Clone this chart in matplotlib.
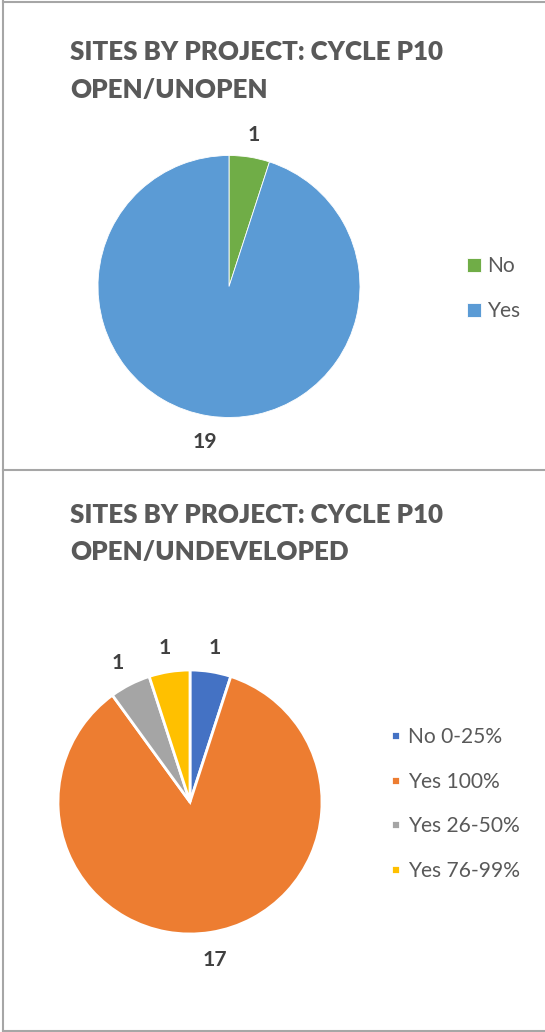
import matplotlib
matplotlib.use('Agg')
import matplotlib.pyplot as plt
from matplotlib.lines import Line2D

# ---------------- data ----------------
top_title = ['SITES BY PROJECT: CYCLE P10', 'OPEN/UNOPEN']
top_categories = ['No', 'Yes']
top_values = [1, 19]
top_colors = ['#70AD47', '#5B9BD5']

bot_title = ['SITES BY PROJECT: CYCLE P10', 'OPEN/UNDEVELOPED']
bot_categories = ['No 0-25%', 'Yes 100%', 'Yes 26-50%', 'Yes 76-99%']
bot_values = [1, 17, 1, 1]
bot_colors = ['#4472C4', '#ED7D31', '#A5A5A5', '#FFC000']

# ---------------- layout ----------------
W, H, DPI = 545, 1032, 100
FAMILY = ['Lato', 'DejaVu Sans']
TITLE_C = '#595959'
LEG_C = '#595959'
LAB_C = '#404040'
BORDER_C = '#A6A6A6'

fig = plt.figure(figsize=(W / DPI, H / DPI), dpi=DPI)
fig.patch.set_facecolor('white')
renderer = fig.canvas.get_renderer()


def fit_size(text, weight, target_px, ref=20.0):
    t = fig.text(0, 0, text, fontsize=ref, family=FAMILY, weight=weight)
    w = t.get_window_extent(renderer).width
    t.remove()
    return ref * target_px / w


TITLE_W = 'heavy'
TITLE_FS = fit_size('SITES BY PROJECT: CYCLE P10', TITLE_W, 372)
LEG_FS = fit_size('Yes 76-99%', 'normal', 112)
LAB_FS = fit_size('19', 'bold', 24.5)


def px(x, y):
    return x / W, 1 - y / H


# borders
for (x0, y0, x1, y1) in [(3, 1, 3, 1031), (3, 1.5, W, 1.5), (3, 469.5, W, 469.5), (3, 1030.5, W, 1030.5)]:
    a, b = px(x0, y0)
    c, d = px(x1, y1)
    fig.add_artist(Line2D([a, c], [b, d], transform=fig.transFigure, color=BORDER_C, lw=1.5))


def titles(lines, baselines):
    for line, yb in zip(lines, baselines):
        fx, fy = px(70, yb)
        fig.text(fx, fy, line, fontsize=TITLE_FS, family=FAMILY, weight=TITLE_W,
                 color=TITLE_C, ha='left', va='baseline')


def make_pie(values, colors, cx, cy, r, lw, ld):
    ax = fig.add_axes([(cx - r) / W, 1 - (cy + r) / H, 2 * r / W, 2 * r / H])
    wedges, texts = ax.pie(values, colors=colors, startangle=90, counterclock=False,
                           labels=[str(v) for v in values], labeldistance=ld,
                           wedgeprops=dict(edgecolor='white', linewidth=lw),
                           textprops=dict(fontsize=LAB_FS, family=FAMILY, weight='bold', color=LAB_C))
    for t in texts:
        t.set_ha('center')
        t.set_va('center_baseline')
    ax.set_xlim(-1, 1)
    ax.set_ylim(-1, 1)
    ax.set_aspect('equal')
    return ax, wedges


def make_legend(ax, wedges, cats, sq_px, left_px, first_cy, spacing, text_gap):
    F = LEG_FS
    hpt = sq_px * 72 / DPI
    hl = hpt / F
    hh = (hpt / F - 0.245) / 0.65
    htp = text_gap * 72 / DPI / F
    ls = 1.0
    anchor = list(px(left_px, first_cy - sq_px / 2))
    leg = None
    for _ in range(4):
        if leg is not None:
            leg.remove()
        leg = ax.legend(wedges, cats, loc='upper left', bbox_to_anchor=tuple(anchor),
                        bbox_transform=fig.transFigure, frameon=False,
                        prop=dict(family=FAMILY, size=F), labelcolor=LEG_C,
                        handlelength=hl, handleheight=hh, handletextpad=htp,
                        labelspacing=ls, borderpad=0, borderaxespad=0)
        fig.canvas.draw()
        hs = leg.legend_handles
        b0 = hs[0].get_window_extent(renderer)
        b1 = hs[1].get_window_extent(renderer)
        meas = (b0.y0 + b0.y1) / 2 - (b1.y0 + b1.y1) / 2
        ls += (spacing - meas) / (F * DPI / 72)
        dx = left_px - b0.x0
        dy = (H - first_cy) - (b0.y0 + b0.y1) / 2
        anchor[0] += dx / W
        anchor[1] += dy / H
    return leg


# top chart
titles(top_title, [60, 98])
ax1, w1 = make_pie(top_values, top_colors, 229, 286.5, 131, 0.6, 1.19)
make_legend(ax1, w1, top_categories, 14, 467, 265, 45, 5.7)

# bottom chart
titles(bot_title, [523, 560])
ax2, w2 = make_pie(bot_values, bot_colors, 190, 802, 132, 2.0, 1.2)
make_legend(ax2, w2, bot_categories, 9, 391, 735.5, 44.7, 8.3)

fig.savefig('out.png', dpi=DPI, facecolor='white')
